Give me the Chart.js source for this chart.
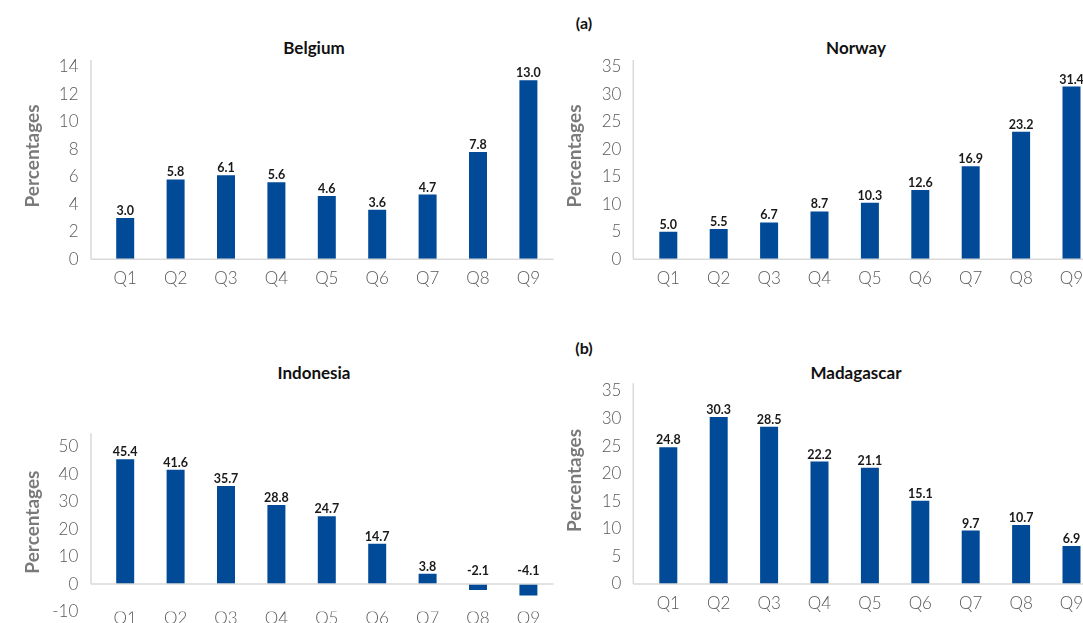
<!DOCTYPE html>
<html><head><meta charset="utf-8">
<script src="https://cdn.jsdelivr.net/npm/chart.js@4/dist/chart.umd.min.js"></script>
<style>
html,body{margin:0;padding:0;width:1083px;height:623px;overflow:hidden;background:#fff;}
canvas{position:absolute;}
.t{position:absolute;font-family:Lato,'Open Sans',sans-serif;font-weight:700;color:#111;white-space:nowrap;transform:translateX(-50%);line-height:20px;}
</style></head><body>
<div class="t" style="left:584px;top:13px;font-size:16px">(a)</div>
<div class="t" style="left:584px;top:338px;font-size:16px">(b)</div>
<div class="t" style="left:314px;top:38px;font-size:17px">Belgium</div>
<div class="t" style="left:856px;top:38px;font-size:17px">Norway</div>
<div class="t" style="left:314px;top:363px;font-size:17px">Indonesia</div>
<div class="t" style="left:856px;top:363px;font-size:17px">Madagascar</div>
<canvas id="c1" width="560" height="300" style="left:0;top:0"></canvas>
<canvas id="c2" width="560" height="300" style="left:540px;top:0"></canvas>
<canvas id="c3" width="560" height="330" style="left:0;top:330px"></canvas>
<canvas id="c4" width="560" height="293" style="left:540px;top:330px"></canvas>
<script>
const quantiles = ['Q1','Q2','Q3','Q4','Q5','Q6','Q7','Q8','Q9'];
const belgium = [3.0, 5.8, 6.1, 5.6, 4.6, 3.6, 4.7, 7.8, 13.0];
const norway = [5.0, 5.5, 6.7, 8.7, 10.3, 12.6, 16.9, 23.2, 31.4];
const indonesia = [45.4, 41.6, 35.7, 28.8, 24.7, 14.7, 3.8, -2.1, -4.1];
const madagascar = [24.8, 30.3, 28.5, 22.2, 21.1, 15.1, 9.7, 10.7, 6.9];
const yAxisTitle = 'Percentages';

const BAR = '#004a98';
const TICK = '#595959';
const FONT = "Lato, 'Open Sans', sans-serif";

const decor = {
  id: 'decor',
  afterDatasetsDraw(chart, args, o) {
    const {ctx, chartArea: a, scales: {y}} = chart;
    const y0 = y.getPixelForValue(0);
    const ax = a.left - o.gap;
    ctx.save();
    ctx.strokeStyle = '#d9d9d9';
    ctx.lineWidth = 1.5;
    ctx.beginPath();
    ctx.moveTo(ax, a.top - o.extra);
    ctx.lineTo(ax, y0);
    ctx.moveTo(ax, y0);
    ctx.lineTo(a.right, y0);
    ctx.stroke();
    // value labels
    const meta = chart.getDatasetMeta(0);
    const vals = chart.data.datasets[0].data;
    ctx.font = "bold 12.5px " + FONT;
    ctx.fillStyle = '#1a1a1a';
    ctx.textAlign = 'center';
    ctx.textBaseline = 'alphabetic';
    meta.data.forEach((bar, i) => {
      const v = vals[i];
      const ty = v >= 0 ? bar.y - 3 : y0 - 9;
      ctx.fillText(v.toFixed(1), bar.x, ty);
    });
    // y axis title
    ctx.save();
    ctx.translate(o.titleX, (a.top + a.bottom) / 2 - 7);
    ctx.rotate(-Math.PI / 2);
    ctx.font = "bold 19px " + FONT;
    ctx.fillStyle = '#7a7a7a';
    ctx.textBaseline = 'middle';
    ctx.fillText(yAxisTitle, 0, 0);
    ctx.restore();
    ctx.restore();
  }
};

function makeChart(id, values, c) {
  return new Chart(document.getElementById(id), {
    type: 'bar',
    data: {
      labels: quantiles,
      datasets: [{data: values, backgroundColor: BAR, borderWidth: 0,
        categoryPercentage: 1, barPercentage: 0.357}]
    },
    options: {
      responsive: false, animation: false, devicePixelRatio: 1,
      layout: {padding: {left: c.padL, top: c.padT, right: c.padR, bottom: 0}},
      plugins: {legend: {display: false}, tooltip: {enabled: false},
        decor: {gap: c.gap, extra: c.extra, titleX: c.titleX}},
      scales: {
        x: {
          grid: {display: false, drawTicks: false}, border: {display: false},
          ticks: {color: TICK, font: {family: FONT, size: 17, weight: '300'},
            padding: c.xPad, maxRotation: 0, autoSkip: false},
          afterFit(s) { s.height = c.xHeight; }
        },
        y: {
          min: c.min, max: c.max,
          grid: {display: false, drawTicks: false}, border: {display: false},
          ticks: {stepSize: c.step, color: TICK, font: {family: FONT, size: 17, weight: '300'},
            padding: c.yPad},
          afterFit(s) { s.width = c.yWidth; }
        }
      }
    },
    plugins: [decor]
  });
}

makeChart('c1', belgium, {padL: 21.3, padT: 66.6, padR: 6.4, yWidth: 78.7, xHeight: 40.7,
  xPad: 8.8, yPad: 21.5, gap: 9, extra: 6.6, titleX: 32.7, min: 0, max: 14, step: 2});
makeChart('c2', norway, {padL: 23.2, padT: 66.8, padR: 3.3, yWidth: 79.9, xHeight: 40.7,
  xPad: 8.8, yPad: 21.7, gap: 9.8, extra: 6.8, titleX: 34.6, min: 0, max: 35, step: 5});
makeChart('c3', indonesia, {padL: 21.3, padT: 116.6, padR: 6.4, yWidth: 78.7, xHeight: 48.4,
  xPad: -3, yPad: 21.7, gap: 9, extra: 13.3, titleX: 32.7, min: -10, max: 50, step: 10});
makeChart('c4', madagascar, {padL: 23.2, padT: 61, padR: 3.3, yWidth: 79.9, xHeight: 39,
  xPad: 9.1, yPad: 21.7, gap: 9.8, extra: 7.7, titleX: 34.6, min: 0, max: 35, step: 5});
</script>
</body></html>
